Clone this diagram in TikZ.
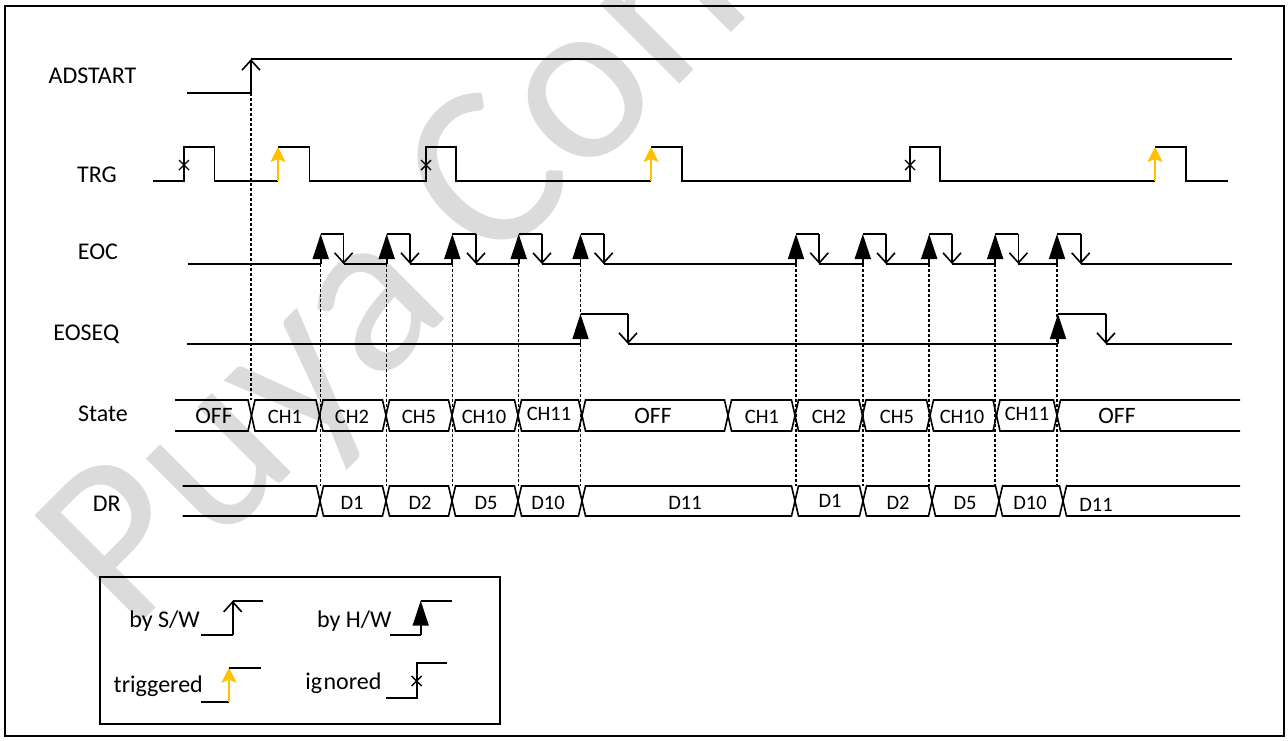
\documentclass[tikz,border=0pt]{standalone}
\usepackage{fontspec}
\setmainfont{Carlito}
\usetikzlibrary{arrows.meta}
\definecolor{trigy}{HTML}{FFC000}
\definecolor{wmark}{gray}{0.86}
\begin{document}
\begin{tikzpicture}[x=1pt,y=-1pt,
  sig/.style={line width=1.7pt},
  dotl/.style={line width=1.5pt, dash pattern=on 3pt off 2pt},
  swtip/.style={-{Straight Barb[length=10pt,width=18pt,line width=1.6pt]}},
  hwtip/.style={-{Triangle[length=25pt,width=16pt]}},
  trtip/.style={trigy, line width=1.7pt, -{Stealth[length=15pt,width=15pt,inset=3pt]}},
  lbl/.style={inner sep=0pt, anchor=base, font=\fontsize{24}{28}\selectfont},
  slbl/.style={inner sep=0pt, anchor=base, font=\fontsize{20.5}{24}\selectfont},
  olbl/.style={inner sep=0pt, anchor=base, font=\fontsize{23.5}{27}\selectfont},
  bus/.style={line width=1.6pt, line join=miter},
  ign/.pic={\draw[line width=1.4pt] (-5,-5) -- (5,5) (-5,5) -- (5,-5);},
]
\useasboundingbox (0,0) rectangle (1288,740);
% watermark
\begin{scope}
\clip (0,0) rectangle (1288,740);
\node[inner sep=0pt, anchor=base west, rotate=45, text=wmark,
      font=\fontsize{235}{235}\selectfont] (wm) at (129.4,634.9) {Puya Confidential};
\end{scope}
% frame
\draw[line width=1.5pt] (5,6) rectangle (1284,736);

% signal names
\node[lbl] (nADSTART) at (92.5,83) {ADSTART};
\node[lbl] (nTRG) at (97,182) {TRG};
\node[lbl] (nEOC) at (98,259) {EOC};
\node[lbl] (nEOSEQ) at (86.3,340.5) {EOSEQ};
\node[lbl] (nState) at (103,421.7) {State};
\node[lbl] (nDR) at (106.8,511.7) {DR};

% dotted guides
\draw[dotl] (251,93) -- (251,400);
\foreach \x in {320.7,386.7,452.3,518.7,580.5,796,862.8,929.2,995.2,1057}
  \draw[dotl] (\x,264) -- (\x,486);

% ADSTART
\draw[sig] (187,93) -- (251,93);
\draw[sig,swtip] (251,93) -- (251,59);
\draw[sig] (251,59) -- (1232,59);

% TRG
\draw[sig] (153,181) -- (184,181) -- (184,147) -- (214.5,147) -- (214.5,181) -- (278,181)
  (278,147) -- (309.5,147) -- (309.5,181) -- (426,181) -- (426,147) -- (456,147) -- (456,181) -- (651,181)
  (651,147) -- (682,147) -- (682,181) -- (910,181) -- (910,147) -- (940,147) -- (940,181) -- (1155,181)
  (1155,147) -- (1186,147) -- (1186,181) -- (1228,181);
\foreach \x in {278,651,1155} \draw[trtip] (\x,181) -- (\x,147);
\foreach \x in {184,426,910} \pic at (\x,165) {ign};

% EOC
\draw[sig] (187.5,264) -- (320.7,264) (343.6,264) -- (386.7,264) (410,264) -- (452.3,264)
  (476,264) -- (518.7,264) (542,264) -- (580.5,264) (603.7,264) -- (796,264)
  (819.3,264) -- (862.8,264) (886,264) -- (929.2,264) (952,264) -- (995.2,264)
  (1018.4,264) -- (1057,264) (1080.7,264) -- (1232,264);
\foreach \r/\f in {320.7/343.6,386.7/410,452.3/476,518.7/542,580.5/603.7,796/819.3,862.8/886,929.2/952,995.2/1018.4,1057/1080.7}{
  \draw[sig,hwtip] (\r,264) -- (\r,234);
  \draw[sig] (\r,234) -- (\f,234);
  \draw[sig,swtip] (\f,234) -- (\f,264);
}

% EOSEQ
\draw[sig] (187,344) -- (580.5,344) (628,344) -- (1058,344) (1106,344) -- (1232,344);
\foreach \r/\f in {580.5/628,1058/1106}{
  \draw[sig,hwtip] (\r,344) -- (\r,314);
  \draw[sig] (\r,314) -- (\f,314);
  \draw[sig,swtip] (\f,314) -- (\f,344);
}

% State bus
\draw[bus] (175,400) -- (248,400) -- (251.5,415.5) -- (248,431) -- (175,431);
\foreach \a/\b in {251.5/319.5,319.5/386,386/452,452/518,518/582,582/728,728/795,795/862.5,862.5/930,930/996.5,996.5/1057}
  \draw[bus] ({\a+3.5},400) -- ({\b-3.5},400) -- (\b,415.5) -- ({\b-3.5},431) -- ({\a+3.5},431) -- (\a,415.5) -- cycle;
\draw[bus] (1240,400) -- (1060.5,400) -- (1057,415.5) -- (1060.5,431) -- (1240,431);

\node[olbl] (s1) at (214,423) {OFF};
\node[slbl] (s2) at (285,423) {CH1};
\node[slbl] (s3) at (352,423) {CH2};
\node[slbl] (s4) at (419,423) {CH5};
\node[slbl] (s5) at (484,423) {CH10};
\node[slbl] (s6) at (549,420.5) {CH11};
\node[olbl] (s7) at (653,423) {OFF};
\node[slbl] (s8) at (762,423) {CH1};
\node[slbl] (s9) at (829,423) {CH2};
\node[slbl] (s10) at (897,423) {CH5};
\node[slbl] (s11) at (962,423) {CH10};
\node[slbl] (s12) at (1027,420.5) {CH11};
\node[olbl] (s13) at (1117,423) {OFF};

% DR bus
\draw[bus] (182.6,486) -- (316.5,486) -- (320,501) -- (316.5,516) -- (182.6,516);
\foreach \a/\b in {320/386,386/452,452/518,518/582,582/795,795/863,863/932,932/999,999/1063}
  \draw[bus] ({\a+3.5},486) -- ({\b-3.5},486) -- (\b,501) -- ({\b-3.5},516) -- ({\a+3.5},516) -- (\a,501) -- cycle;
\draw[bus] (1240,486) -- (1066.5,486) -- (1063,501) -- (1066.5,516) -- (1240,516);

\node[slbl] (d1) at (352,509.3) {D1};
\node[slbl] (d2) at (420,509.3) {D2};
\node[slbl] (d3) at (486,509.3) {D5};
\node[slbl] (d4) at (548,509.3) {D10};
\node[slbl] (d5) at (685,509.3) {D11};
\node[slbl] (d6) at (830,507.5) {D1};
\node[slbl] (d7) at (898,509.3) {D2};
\node[slbl] (d8) at (965,509.3) {D5};
\node[slbl] (d9) at (1030,509.3) {D10};
\node[slbl] (d10) at (1096,511) {D11};

% legend
\draw[line width=1.5pt] (100,577) rectangle (500,724);
\node[lbl, anchor=base east] (lsw) at (200,627) {by S/W};
\draw[sig] (201,635) -- (232.7,635);
\draw[sig,swtip] (232.7,635) -- (232.7,600.7);
\draw[sig] (232.7,600.7) -- (263,600.7);

\node[lbl, anchor=base east] (lhw) at (391.7,627) {by H/W};
\draw[sig] (390,635) -- (420.7,635);
\draw[sig,hwtip] (420.7,635) -- (420.7,600.7);
\draw[sig] (420.7,600.7) -- (452,600.7);

\node[lbl, anchor=base east] (ltr) at (203,692) {triggered};
\draw[sig] (201,701.7) -- (229,701.7);
\draw[trtip] (229,701.7) -- (229,667.7);
\draw[sig] (229,667.7) -- (260.7,667.7);

\node[lbl, anchor=base east] (lig) at (381.7,689) {ig\kern1.5pt nored};
\draw[sig] (386,697.7) -- (416.7,697.7) -- (416.7,663.3) -- (447.3,663.3);
\pic at (416.7,681) {ign};
\end{tikzpicture}
\end{document}
